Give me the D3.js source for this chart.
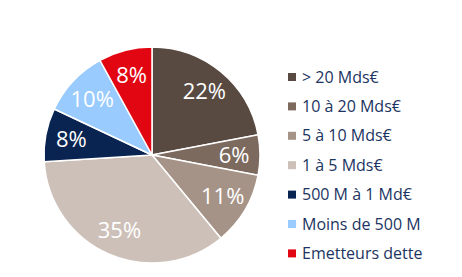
<!DOCTYPE html>
<html>
<head>
<meta charset="utf-8">
<script src="https://cdn.jsdelivr.net/npm/d3@7"></script>
<style>
  body { margin: 0; background: #fff; }
  text { font-family: "Open Sans", "Noto Sans", sans-serif; }
</style>
</head>
<body>
<div id="chart"></div>
<script>
var categories = ["> 20 Mds€", "10 à 20 Mds€", "5 à 10 Mds€", "1 à 5 Mds€", "500 M à 1 Md€", "Moins de 500 M", "Emetteurs dette"];
var values = [22, 6, 11, 35, 8, 10, 8];
var colors = ["#594a41", "#7d6a5f", "#a69387", "#cdc0b8", "#0a2452", "#99cbfe", "#e20613"];

var width = 462, height = 277;
var cx = 152, cy = 155, radius = 108;

var svg = d3.select("#chart").append("svg")
    .attr("width", width)
    .attr("height", height);

var data = categories.map(function (c, i) { return { name: c, value: values[i], color: colors[i] }; });

var pie = d3.pie().sort(null).value(function (d) { return d.value; });
var arc = d3.arc().innerRadius(0).outerRadius(radius);
var labelArc = d3.arc().innerRadius(radius * 0.76).outerRadius(radius * 0.76);

var g = svg.append("g").attr("transform", "translate(" + cx + "," + cy + ")");

var slices = g.selectAll("g.slice")
    .data(pie(data))
    .enter().append("g")
    .attr("class", "slice");

slices.append("path")
    .attr("d", arc)
    .attr("fill", function (d) { return d.data.color; })
    .attr("stroke", "#fff")
    .attr("stroke-width", 1.5);

slices.append("text")
    .attr("transform", function (d) { return "translate(" + labelArc.centroid(d) + ")"; })
    .attr("text-anchor", "middle")
    .attr("dy", "0.35em")
    .attr("fill", "#fff")
    .attr("font-size", "22px")
    .text(function (d) { return d.data.value + "%"; });

// legend
var legend = svg.append("g").attr("transform", "translate(288,77)");
var row = legend.selectAll("g")
    .data(data)
    .enter().append("g")
    .attr("transform", function (d, i) { return "translate(0," + (i * 29.4) + ")"; });

row.append("rect")
    .attr("x", 0).attr("y", -4)
    .attr("width", 8).attr("height", 8)
    .attr("fill", function (d) { return d.color; });

row.append("text")
    .attr("x", 14)
    .attr("dy", "0.35em")
    .attr("fill", "#1b3461")
    .attr("font-size", "16px")
    .text(function (d) { return d.name; });
</script>
</body>
</html>
